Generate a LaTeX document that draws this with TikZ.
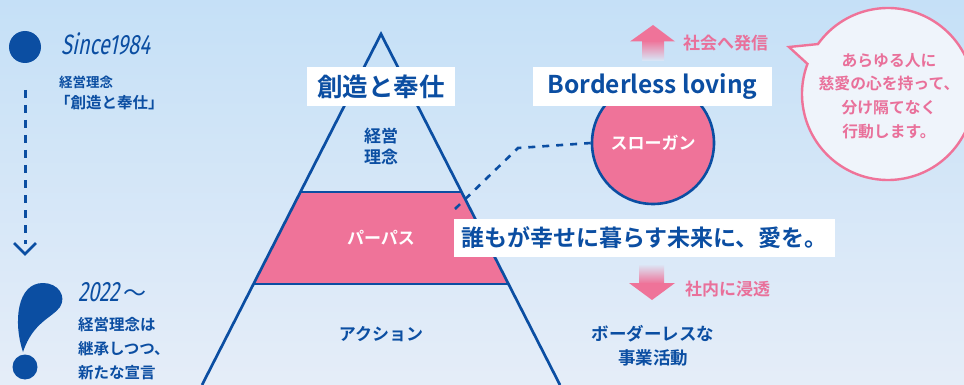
\documentclass[tikz,border=0pt]{standalone}
\usepackage{fontspec}
\setmainfont{Noto Sans CJK JP}[BoldFont={Noto Sans CJK JP Bold}]
\newfontfamily\condfont{Fira Sans}[FakeStretch=0.72, FakeSlant=0.2]
\usetikzlibrary{calc}
\definecolor{navy}{HTML}{0B4EA2}
\definecolor{rose}{HTML}{EF7399}
\definecolor{rosetext}{HTML}{E9709A}
\definecolor{bgtop}{HTML}{C5E0F7}
\definecolor{bgbot}{HTML}{E5EDF8}
\definecolor{bubblefill}{HTML}{EFF4FB}
\newcommand{\fs}[1]{\fontsize{#1}{#1}\selectfont}
\tikzset{
  whitebox/.style={fill=white, inner sep=0pt, text=navy, font=\bfseries\fs{#1}},
  navytext/.style={text=navy, inner sep=0pt, font=\bfseries\fs{#1}},
  rosetxt/.style={text=rosetext, inner sep=0pt, font=\bfseries\fs{#1}},
  condtext/.style={text=navy, inner sep=0pt, font=\condfont\fs{#1}},
  navyline/.style={draw=navy, line width=2.7pt},
  dotline/.style={draw=navy, line width=2.6pt, dash pattern=on 7pt off 7pt},
}
\begin{document}
\begin{tikzpicture}[x=1pt,y=-1pt]
\useasboundingbox (0,0) rectangle (964,385);
% background
\shade[top color=bgtop, bottom color=bgbot] (0,0) rectangle (964,385);

% ---------- left timeline ----------
\node[circle, fill=navy, minimum size=32pt, inner sep=0pt] (dot1) at (25,47) {};
\node[anchor=west, condtext=28] (since) at (61,44) {Since1984};
\node[anchor=west, navytext=13.5] (rinen1) at (59,82) {経営理念};
\node[anchor=west, navytext=15.5] (sozo1) at (55,103) {「創造と奉仕」};
\coordinate (vtop) at (25,90);
\coordinate (vend) at (25,244);
\coordinate (vtip) at (25,254);
\draw[draw=navy, line width=3pt, dash pattern=on 8pt off 7pt] (vtop) -- (vend);
\draw[draw=navy, line width=2.6pt] ($(vtip)+(-11,-11)$) -- (vtip) -- ($(vtip)+(11,-11)$);

% exclamation mark
\fill[navy] (23,352) .. controls (13,322) and (17,283) .. (43,283)
  .. controls (58,283) and (67,296) .. (60,307)
  .. controls (52,318) and (33,322) .. (23,352) -- cycle;
\node[circle, fill=navy, minimum size=25pt, inner sep=0pt] (dot2) at (25,367) {};
\node[anchor=west, condtext=28] (y2022) at (78,292) {2022\,{\normalfont\fs{23}～}};
\node[anchor=west, navytext=15.5] (l1) at (78,325) {経営理念は};
\node[anchor=west, navytext=15.5] (l2) at (78,349) {継承しつつ、};
\node[anchor=west, navytext=15.5] (l3) at (78,373) {新たな宣言};

% ---------- pyramid ----------
\coordinate (apex) at (381,34);
\coordinate (bl) at (202,385);
\coordinate (br) at (560,385);
\coordinate (p1) at (300.4,192);
\coordinate (p2) at (461.6,192);
\coordinate (p3) at (508.5,284);
\coordinate (p4) at (253.5,284);
\fill[rose] (p1) -- (p2) -- (p3) -- (p4) -- cycle;
\draw[navyline, line join=miter] (bl) -- (apex) -- (br);
\draw[navyline] (p1) -- (p2);
\draw[navyline] (p4) -- (p3);

\node[navytext=17, align=center] (rinen2) at (381,146) {経営\\[4pt]理念};
\node[text=white, inner sep=0pt, font=\bfseries\fs{17}] (purpose) at (381,238) {パーパス};
\node[navytext=17] (action) at (381,334) {アクション};

% ---------- slogan ----------
\node[circle, fill=rose, draw=navy, line width=2.6pt, minimum size=122pt, inner sep=0pt,
      text=white, font=\bfseries\fs{17}] (slogan) at (653,143) {スローガン};
\coordinate (d1) at (455,209);
\coordinate (d2) at (518,148);
\draw[dotline] (d1) -- (d2) -- (slogan.west);

\node[whitebox=25.5, minimum width=148pt, minimum height=39pt] (sozo) at (381,86.5) {創造と奉仕};
\node[whitebox=24.5, minimum width=239pt, minimum height=39pt] (border) at (652.5,86.5) {Borderless loving};
\node[whitebox=23, minimum width=381pt, minimum height=38pt] (mirai) at (644.5,238) {誰もが幸せに暮らす未来に、愛を。};

% up arrow
\shade[top color=rose, bottom color=bgtop!70!white] (642,40.5) rectangle (664,61);
\fill[rose] (630,41.5) -- (653,25) -- (675,41.5) -- cycle;
\node[anchor=west, rosetxt=17] (hasshin) at (683,43) {社会へ発信};

% down arrow
\shade[top color=bgbot!70!bgtop, bottom color=rose] (639,264) rectangle (664,283.5);
\fill[rose] (629,283) -- (675,283) -- (652,300) -- cycle;
\node[anchor=west, rosetxt=17] (shinto) at (685,289) {社内に浸透};

\node[navytext=17.5, align=center] (jigyo) at (653,346) {ボーダーレスな\\[7pt]事業活動};

% ---------- speech bubble ----------
\coordinate (bc) at (888,94);
\coordinate (tail) at (789,47);
\filldraw[fill=bubblefill, draw=rose, line width=2.4pt, line join=miter]
  (tail) -- ($(bc)+(215.5:86)$) arc[start angle=215.5, end angle=560.5, radius=86] -- cycle;
\node[rosetxt=15.8, align=center] (bubbletext) at (889,96)
  {あらゆる人に\\[8pt]慈愛の心を持って、\\[8pt]分け隔てなく\\[8pt]行動します。};
\end{tikzpicture}
\end{document}
